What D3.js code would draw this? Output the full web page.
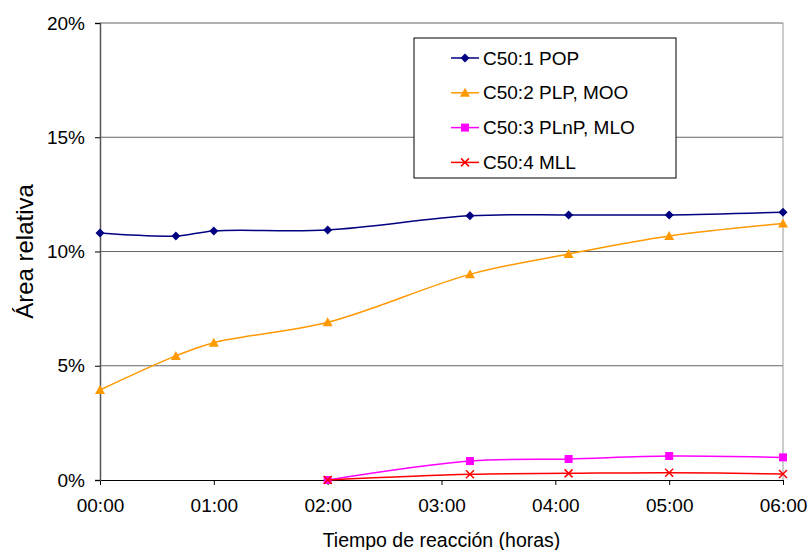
<!DOCTYPE html>
<html>
<head>
<meta charset="utf-8">
<script src="https://cdn.jsdelivr.net/npm/d3@7"></script>
<style>
  body { margin: 0; background: #fff; }
  text { font-family: "Liberation Sans", Arial, sans-serif; }
</style>
</head>
<body>
<div id="chart"></div>
<script>
// reaction time in minutes
var times = [0, 40, 60, 120, 195, 247, 300, 360]
var seriesNames = ["C50:1 POP", "C50:2 PLP, MOO", "C50:3 PLnP, MLO", "C50:4 MLL"]
var pop = [10.81, 10.68, 10.9, 10.94, 11.56, 11.6, 11.6, 11.72]
var plp = [3.94, 5.43, 6.01, 6.9, 9.0, 9.89, 10.68, 11.23]
var plnp = [null, null, null, 0, 0.83, 0.92, 1.05, 0.99]
var mll = [null, null, null, 0, 0.25, 0.29, 0.32, 0.26]
var xTicks = [0, 60, 120, 180, 240, 300, 360]
var yTicks = [0, 5, 10, 15, 20]

var colors = ["#000080", "#ff9900", "#ff00ff", "#ff0000"]
var symbols = ["diamond", "triangle", "square", "x"]

var margin = {top: 23, right: 26, bottom: 70, left: 100},
    width = 809 - margin.left - margin.right,
    height = 550 - margin.top - margin.bottom

var svg = d3.select("#chart")
  .append("svg")
  .attr("width", 809)
  .attr("height", 550)
  .append("g")
  .attr("transform", "translate(" + margin.left + "," + margin.top + ")")

var x = d3.scaleLinear().domain([0, 360]).range([0, width])
var y = d3.scaleLinear().domain([0, 20]).range([height, 0])

// gridlines
svg.selectAll(".grid")
  .data(yTicks.slice(1))
  .enter()
  .append("line")
  .attr("x1", 0)
  .attr("x2", width)
  .attr("y1", function(d) { return y(d) })
  .attr("y2", function(d) { return y(d) })
  .attr("stroke", "#666")
  .attr("stroke-width", 1)

// plot area right border
svg.append("line")
  .attr("x1", width).attr("x2", width)
  .attr("y1", 0).attr("y2", height)
  .attr("stroke", "#999")

var pad = function(n) { return (n < 10 ? "0" : "") + n }

var xAxis = svg.append("g")
  .attr("transform", "translate(0," + height + ")")
  .call(d3.axisBottom(x).tickValues(xTicks).tickSize(5).tickPadding(14)
    .tickFormat(function(d) { return pad(d / 60) + ":00" }))
xAxis.select(".domain").attr("stroke", "#000")
xAxis.selectAll(".tick line").attr("stroke", "#000")
xAxis.selectAll("text").attr("font-size", 19).attr("fill", "#000")
  .attr("font-family", "Liberation Sans, Arial, sans-serif")

var yAxis = svg.append("g")
  .call(d3.axisLeft(y).tickValues(yTicks).tickSize(5).tickPadding(10)
    .tickFormat(function(d) { return d + "%" }))
yAxis.select(".domain").attr("stroke", "#555").attr("stroke-width", 1.5)
yAxis.selectAll(".tick line").attr("stroke", "#000")
yAxis.selectAll("text").attr("font-size", 19).attr("fill", "#000")
  .attr("font-family", "Liberation Sans, Arial, sans-serif")

svg.append("text")
  .attr("x", width / 2)
  .attr("y", height + 67)
  .attr("text-anchor", "middle")
  .attr("font-size", 19.5)
  .text("Tiempo de reacción (horas)")

svg.append("text")
  .attr("transform", "translate(-67," + (height / 2) + ") rotate(-90)")
  .attr("text-anchor", "middle")
  .attr("font-size", 24)
  .text("Área relativa")

var allData = [pop, plp, plnp, mll]

var line = d3.line()
  .defined(function(d) { return d.v !== null })
  .x(function(d) { return x(d.t) })
  .y(function(d) { return y(d.v) })
  .curve(d3.curveCatmullRom.alpha(0.5))

function drawMarker(g, i, cx, cy) {
  var p = d3.path(), s
  if (symbols[i] === "x") {
    s = 4
    p.moveTo(cx - s, cy - s); p.lineTo(cx + s, cy + s)
    p.moveTo(cx - s, cy + s); p.lineTo(cx + s, cy - s)
    g.append("path").attr("d", p.toString())
      .attr("stroke", colors[i]).attr("stroke-width", 1.5).attr("fill", "none")
    return
  }
  if (symbols[i] === "diamond") {
    s = 4.5
    p.moveTo(cx, cy - s); p.lineTo(cx + s, cy); p.lineTo(cx, cy + s); p.lineTo(cx - s, cy)
  } else if (symbols[i] === "triangle") {
    s = 5
    p.moveTo(cx, cy - s); p.lineTo(cx + s, cy + s * 0.8); p.lineTo(cx - s, cy + s * 0.8)
  } else {
    s = 4
    p.rect(cx - s, cy - s, 2 * s, 2 * s)
  }
  p.closePath()
  g.append("path").attr("d", p.toString()).attr("fill", colors[i])
}

allData.forEach(function(vals, i) {
  var pts = vals.map(function(v, j) { return {t: times[j], v: v} })
  var defined = pts.filter(function(d) { return d.v !== null })
  svg.append("path")
    .datum(defined)
    .attr("d", line)
    .attr("fill", "none")
    .attr("stroke", colors[i])
    .attr("stroke-width", 1.5)
  var g = svg.append("g")
  defined.forEach(function(d) { drawMarker(g, i, x(d.t), y(d.v)) })
})

// legend
var lx = 414 - margin.left, ly = 38 - margin.top
svg.append("rect")
  .attr("x", lx)
  .attr("y", ly)
  .attr("width", 262)
  .attr("height", 140)
  .attr("fill", "#fff")
  .attr("stroke", "#000")
  .attr("stroke-width", 1)

seriesNames.forEach(function(name, i) {
  var cy = ly + 20 + i * 34.8
  var g = svg.append("g")
  g.append("line")
    .attr("x1", lx + 37).attr("x2", lx + 65)
    .attr("y1", cy).attr("y2", cy)
    .attr("stroke", colors[i])
    .attr("stroke-width", 1.5)
  drawMarker(g, i, lx + 51, cy)
  g.append("text")
    .attr("x", lx + 69)
    .attr("y", cy + 6.5)
    .attr("font-size", 19)
    .text(name)
})
</script>
</body>
</html>
